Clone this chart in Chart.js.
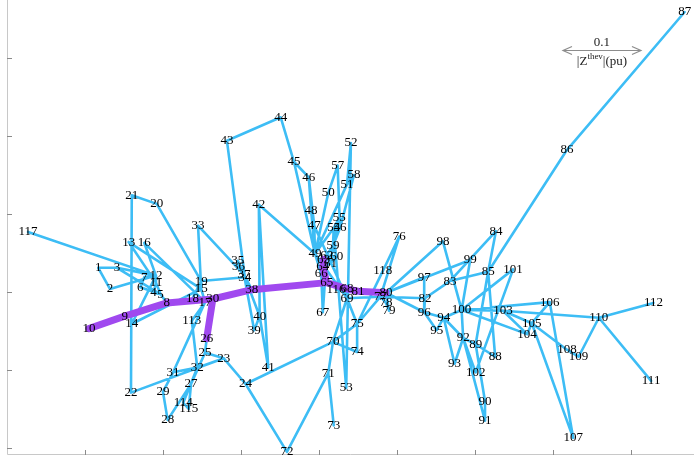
<!DOCTYPE html>
<html>
<head>
<meta charset="utf-8">
<script src="https://cdn.jsdelivr.net/npm/chart.js@4"></script>
<style>
  html, body { margin: 0; padding: 0; background: #fff; }
  #wrap { width: 694px; height: 456px; }
</style>
</head>
<body>
<div id="wrap"><canvas id="grafico" width="694" height="456"></canvas></div>
<script>
// posiciones de las barras (bus 1..118), unidades de 0.1 pu por division
const busX = [
  1.17, 1.32, 1.41, 1.88, 1.97, 1.71, 1.76, 2.05, 1.51, 1.05,
  1.91, 1.91, 1.56, 1.60, 2.49, 1.76, 2.54, 2.38, 2.49, 1.92,
  1.60, 1.59, 2.78, 3.06, 2.54, 2.56, 2.36, 2.06, 2.00, 2.64,
  2.13, 2.44, 2.45, 3.05, 2.96, 2.97, 3.04, 3.14, 3.17, 3.24,
  3.35, 3.23, 2.82, 3.51, 3.68, 3.87, 3.94, 3.90, 3.95, 4.12,
  4.36, 4.41, 4.35, 4.19, 4.26, 4.27, 4.24, 4.45, 4.18, 4.23,
  4.15, 4.10, 4.06, 4.05, 4.10, 4.03, 4.05, 4.36, 4.36, 4.18,
  4.12, 3.59, 4.19, 4.49, 4.49, 5.03, 4.79, 4.86, 4.90, 4.86,
  4.50, 5.36, 5.68, 6.27, 6.17, 7.18, 8.69, 6.26, 6.01, 6.13,
  6.13, 5.85, 5.74, 5.60, 5.51, 5.35, 5.35, 5.59, 5.94, 5.83,
  6.49, 6.01, 6.36, 6.67, 6.73, 6.96, 7.26, 7.18, 7.33, 7.59,
  8.26, 8.29, 2.37, 2.26, 2.33, 4.22, 0.27, 4.82
];
const busY = [
  2.31, 2.04, 2.31, 1.99, 1.97, 2.06, 2.19, 1.86, 1.69, 1.53,
  2.12, 2.21, 2.64, 1.59, 2.04, 2.63, 1.87, 1.92, 2.14, 3.13,
  3.24, 0.71, 1.15, 0.82, 1.22, 1.40, 0.82, 0.36, 0.72, 1.91,
  0.97, 1.03, 2.85, 2.19, 2.40, 2.32, 2.22, 2.03, 1.51, 1.69,
  1.03, 3.12, 3.94, 4.24, 3.67, 3.47, 2.85, 3.05, 2.49, 3.27,
  3.38, 3.91, 0.77, 2.82, 2.95, 2.82, 3.62, 3.50, 2.59, 2.45,
  2.37, 2.47, 2.42, 2.32, 2.12, 2.23, 1.74, 2.04, 1.92, 1.36,
  0.96, -0.05, 0.29, 1.23, 1.59, 2.71, 1.94, 1.86, 1.76, 1.99,
  2.01, 1.92, 2.14, 2.78, 2.26, 3.82, 5.59, 1.17, 1.33, 0.60,
  0.35, 1.41, 1.08, 1.67, 1.51, 1.74, 2.19, 2.65, 2.41, 1.77,
  2.29, 0.97, 1.76, 1.46, 1.60, 1.87, 0.13, 1.26, 1.17, 1.67,
  0.86, 1.86, 1.63, 0.58, 0.50, 2.03, 2.77, 2.27
];

// ramas (desde, hasta)
const ramaDesde = [
  1, 1, 4, 3, 5, 6, 8, 8, 9, 4, 5, 11, 2, 3, 7, 11, 12, 13, 14, 12,
  15, 16, 17, 18, 19, 15, 20, 21, 22, 23, 23, 26, 25, 27, 28, 30, 8, 26, 17, 29,
  23, 31, 27, 15, 19, 35, 35, 33, 34, 34, 38, 37, 37, 30, 39, 40, 40, 41, 43, 34,
  44, 45, 46, 46, 47, 42, 45, 48, 49, 49, 51, 52, 53, 49, 54, 54, 55, 56, 50, 56,
  51, 54, 56, 55, 59, 59, 60, 60, 61, 63, 63, 64, 38, 64, 49, 62, 62, 65, 66, 65,
  47, 49, 68, 69, 24, 70, 24, 71, 71, 70, 70, 69, 74, 76, 69, 75, 77, 78, 77, 79,
  68, 81, 77, 82, 83, 83, 84, 85, 86, 85, 85, 88, 89, 90, 89, 91, 92, 92, 93, 94,
  80, 82, 94, 80, 80, 80, 92, 94, 95, 96, 98, 99, 100, 92, 101, 100, 100, 103, 103, 100,
  104, 105, 105, 105, 106, 108, 103, 109, 110, 110, 17, 32, 32, 27, 114, 68, 12, 75, 76
];
const ramaHasta = [
  2, 3, 5, 5, 6, 7, 9, 5, 10, 11, 11, 12, 12, 12, 12, 13, 14, 15, 15, 16,
  17, 17, 18, 19, 20, 19, 21, 22, 23, 24, 25, 25, 27, 28, 29, 17, 30, 30, 31, 31,
  32, 32, 32, 33, 34, 36, 37, 37, 36, 37, 37, 39, 40, 38, 40, 41, 42, 42, 44, 43,
  45, 46, 47, 48, 49, 49, 49, 49, 50, 51, 52, 53, 54, 54, 55, 56, 56, 57, 57, 58,
  58, 59, 59, 59, 60, 61, 61, 62, 62, 59, 64, 61, 65, 65, 66, 66, 67, 66, 67, 68,
  69, 69, 69, 70, 70, 71, 72, 72, 73, 74, 75, 75, 75, 77, 77, 77, 78, 79, 80, 80,
  81, 80, 82, 83, 84, 85, 85, 86, 87, 88, 89, 89, 90, 91, 92, 92, 93, 94, 94, 95,
  96, 96, 96, 97, 98, 99, 100, 100, 96, 97, 100, 100, 101, 102, 102, 103, 104, 104, 105, 106,
  105, 106, 107, 108, 107, 109, 110, 110, 111, 112, 113, 113, 114, 115, 115, 116, 117, 118, 118
];

// ramas resaltadas (trayecto en morado)
const trayecto = [
  [10, 9], [9, 8], [8, 30], [30, 26], [30, 38], [38, 65],
  [63, 64], [64, 65], [65, 68], [68, 81], [81, 80]
];

// barra de escala: 0.1 pu = 1 division
const escalaBarra = { x: 7.13, y: 5.10, largo: 1, texto: '0.1' };

const colorRama = '#3dbdf5';
const colorTrayecto = '#a049ef';

function segmentos(pares) {
  const puntos = [];
  pares.forEach(function (p) {
    puntos.push({ x: busX[p[0] - 1], y: busY[p[0] - 1] });
    puntos.push({ x: busX[p[1] - 1], y: busY[p[1] - 1] });
    puntos.push({ x: NaN, y: NaN });
  });
  return puntos;
}

const paresRamas = ramaDesde.map(function (d, i) { return [d, ramaHasta[i]]; });

const pluginEjes = {
  id: 'ejes',
  beforeDatasetsDraw: function (chart) {
    const ctx = chart.ctx;
    const area = chart.chartArea;
    const sx = chart.scales.x;
    const sy = chart.scales.y;
    ctx.save();
    ctx.strokeStyle = '#c8c8c8';
    ctx.lineWidth = 1;
    ctx.beginPath();
    ctx.moveTo(area.left + 0.5, area.top);
    ctx.lineTo(area.left + 0.5, area.bottom - 0.5);
    ctx.lineTo(area.right, area.bottom - 0.5);
    ctx.stroke();
    ctx.strokeStyle = '#8a8a8a';
    ctx.beginPath();
    for (let v = 0; v <= 5; v++) {
      const y = Math.round(sy.getPixelForValue(v)) + 0.5;
      ctx.moveTo(area.left, y);
      ctx.lineTo(area.left + 5, y);
    }
    for (let v = 1; v <= 8; v++) {
      const x = Math.round(sx.getPixelForValue(v)) + 0.5;
      ctx.moveTo(x, area.bottom);
      ctx.lineTo(x, area.bottom - 5);
    }
    ctx.stroke();
    ctx.restore();
  }
};

const pluginEtiquetas = {
  id: 'etiquetas',
  afterDatasetsDraw: function (chart) {
    const ctx = chart.ctx;
    const sx = chart.scales.x;
    const sy = chart.scales.y;
    ctx.save();
    ctx.font = '13px "Liberation Serif", serif';
    ctx.fillStyle = '#000';
    ctx.textAlign = 'center';
    ctx.textBaseline = 'middle';
    busX.forEach(function (bx, i) {
      ctx.fillText(String(i + 1), sx.getPixelForValue(bx), sy.getPixelForValue(busY[i]));
    });

    // barra de escala
    const x0 = sx.getPixelForValue(escalaBarra.x);
    const x1 = sx.getPixelForValue(escalaBarra.x + escalaBarra.largo);
    const yb = Math.round(sy.getPixelForValue(escalaBarra.y)) + 0.5;
    ctx.strokeStyle = '#8c8c8c';
    ctx.lineWidth = 1.2;
    ctx.beginPath();
    ctx.moveTo(x0, yb); ctx.lineTo(x1, yb);
    ctx.moveTo(x0 + 9, yb - 4); ctx.lineTo(x0, yb); ctx.lineTo(x0 + 9, yb + 4);
    ctx.moveTo(x1 - 9, yb - 4); ctx.lineTo(x1, yb); ctx.lineTo(x1 - 9, yb + 4);
    ctx.stroke();
    const xc = (x0 + x1) / 2;
    ctx.fillStyle = '#222';
    ctx.font = '13px "Liberation Serif", serif';
    ctx.fillText(escalaBarra.texto, xc, yb - 8);
    // |Z^thev|(pu)
    const parte1 = '|Z';
    const sup = 'thev';
    const parte2 = '|(pu)';
    ctx.textAlign = 'left';
    ctx.font = '13px "Liberation Serif", serif';
    const w1 = ctx.measureText(parte1).width;
    const w3 = ctx.measureText(parte2).width;
    ctx.font = '9px "Liberation Serif", serif';
    const w2 = ctx.measureText(sup).width;
    let xt = xc - (w1 + w2 + w3) / 2;
    const yt = yb + 11;
    ctx.font = '13px "Liberation Serif", serif';
    ctx.fillText(parte1, xt, yt);
    xt += w1;
    ctx.font = '9px "Liberation Serif", serif';
    ctx.fillText(sup, xt, yt - 5);
    xt += w2;
    ctx.font = '13px "Liberation Serif", serif';
    ctx.fillText(parte2, xt, yt);
    ctx.restore();
  }
};

const canvas = document.getElementById('grafico');
new Chart(canvas.getContext('2d'), {
  type: 'scatter',
  data: {
    datasets: [{
      label: 'Ramas',
      data: segmentos(paresRamas),
      showLine: true,
      spanGaps: false,
      borderColor: colorRama,
      borderWidth: 2.6,
      borderCapStyle: 'round',
      pointRadius: 0,
      order: 2
    }, {
      label: 'Trayecto',
      data: segmentos(trayecto),
      showLine: true,
      spanGaps: false,
      borderColor: colorTrayecto,
      borderWidth: 7,
      borderCapStyle: 'round',
      borderJoinStyle: 'round',
      pointRadius: 0,
      order: 1
    }]
  },
  options: {
    responsive: false,
    animation: false,
    layout: { padding: { left: 7, right: 0, top: 0, bottom: 1 } },
    scales: {
      x: { type: 'linear', display: false, min: 0, max: 8.81 },
      y: { type: 'linear', display: false, min: -0.09, max: 5.744 }
    },
    plugins: {
      legend: { display: false },
      tooltip: { enabled: false }
    }
  },
  plugins: [pluginEjes, pluginEtiquetas]
});
</script>
</body>
</html>
